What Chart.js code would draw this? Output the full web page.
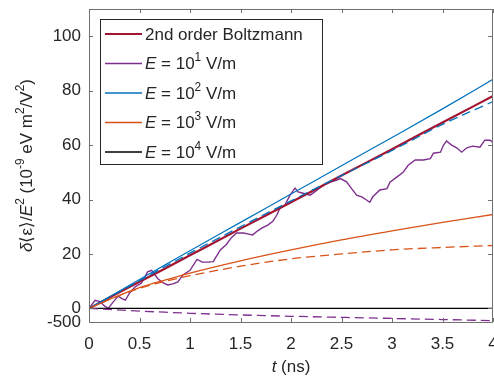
<!DOCTYPE html>
<html>
<head>
<meta charset="utf-8">
<script src="https://cdn.jsdelivr.net/npm/chart.js@4.4.1/dist/chart.umd.min.js"></script>
<style>
  html, body { margin: 0; padding: 0; background: #fff; }
  #wrap { width: 494px; height: 379px; }
</style>
</head>
<body>
<div id="wrap"><canvas id="myChart" width="494" height="379"></canvas></div>
<script>
// time axis (ns) for the smooth curves
const tSmooth = [0, 0.25, 0.5, 0.75, 1, 1.5, 2, 2.5, 3, 3.5, 4];

const boltzmann    = [0, 4.9, 9.8, 14.6, 19.5, 29.3, 39, 48.8, 58.5, 68.3, 78];
const blueSolid    = [0, 5.3, 10.6, 15.9, 21.2, 31.6, 42, 52.4, 62.8, 73.3, 84.2];
const blueDashed   = [0, 5.1, 10.2, 15.3, 20.3, 30, 39.5, 48.8, 58, 67.6, 76];
const orangeSolid  = [0, 4, 7.6, 10.4, 13, 17.5, 21.5, 25.2, 28.5, 31.6, 34.5];
const orangeDashed = [0, 4, 7.4, 9.9, 12, 15.5, 18.2, 20, 21.5, 22.4, 23.1];
const purpleDashed = [0, -0.5, -1, -1.4, -1.8, -2.4, -2.9, -3.3, -3.7, -4.1, -4.5];
const blackSolid   = [0, 0, 0, 0, 0, 0, 0, 0, 0, 0, 0];

// noisy E = 10^1 V/m run
const tPurple = [0, 0.03, 0.06, 0.11, 0.15, 0.19, 0.24, 0.29, 0.33, 0.36, 0.40, 0.46, 0.52, 0.58, 0.62,
  0.68, 0.73, 0.78, 0.83, 0.88, 0.93, 1.0, 1.07, 1.12, 1.18, 1.23, 1.3, 1.36, 1.41, 1.46, 1.53, 1.58,
  1.62, 1.67, 1.71, 1.77, 1.82, 1.86, 1.89, 1.94, 1.99, 2.04, 2.07, 2.12, 2.19, 2.26, 2.32, 2.39, 2.44,
  2.49, 2.55, 2.6, 2.65, 2.7, 2.74, 2.78, 2.81, 2.88, 2.95, 2.98, 3.05, 3.11, 3.16, 3.23, 3.31, 3.38,
  3.41, 3.48, 3.51, 3.54, 3.59, 3.64, 3.69, 3.74, 3.80, 3.87, 3.92, 3.97, 4.0];
const purpleSolid = [0, 1.5, 3, 2.5, 1, 0, 2.4, 4.5, 3.5, 3, 5.6, 8, 9.3, 13.4, 14,
  11, 9.5, 8.6, 9, 9.7, 12.3, 14, 18, 17, 17, 17.2, 21.5, 23.5, 26, 27.7, 27.7, 27.3,
  27, 28.5, 29.5, 30.6, 32, 34.3, 36.8, 38, 41.6, 44.2, 42.8, 42.3, 41.6, 43.5, 45.3, 46.4, 47,
  47.7, 46.5, 44, 41.6, 41, 40, 39, 41, 43.5, 44, 46.4, 48.3, 50, 52.6, 54.5, 54.5, 55,
  57, 57.4, 60, 61.5, 60, 59, 57.4, 59, 59.6, 59.2, 61.8, 61.8, 61];

const xTicks = [0, 0.5, 1, 1.5, 2, 2.5, 3, 3.5, 4];
const xTickLabels = ['0', '0.5', '1', '1.5', '2', '2.5', '3', '3.5', '4'];
const yTicks = [-5, 0, 20, 40, 60, 80, 100];
const yTickLabels = ['-500', '0', '20', '40', '60', '80', '100'];

const RED = '#A2142F', PURPLE = '#7E2F8E', BLUE = '#0072BD', ORANGE = '#D95319', BLACK = '#000000';
const TEXT = '#262626';
const FONT = '"Liberation Sans", Arial, sans-serif';

function pts(xs, ys) { return xs.map((x, i) => ({ x: x, y: ys[i] })); }

function series(label, xs, ys, color, width, dashed, smooth) {
  return {
    label: label,
    data: pts(xs, ys),
    borderColor: color,
    backgroundColor: color,
    borderWidth: width,
    borderDash: dashed ? [9, 5] : [],
    pointRadius: 0,
    fill: false,
    tension: 0,
    cubicInterpolationMode: smooth ? 'monotone' : 'default'
  };
}

// draw a run of text pieces: {t, it, sup}
function richWidth(ctx, runs, size) {
  let w = 0;
  runs.forEach(r => {
    const s = r.sup ? size * 0.7 : size;
    ctx.font = (r.it ? 'italic ' : '') + s + 'px ' + FONT;
    w += ctx.measureText(r.t).width;
  });
  return w;
}
function richDraw(ctx, runs, x, y, size) {
  ctx.textBaseline = 'middle';
  ctx.textAlign = 'left';
  runs.forEach(r => {
    const s = r.sup ? size * 0.7 : size;
    ctx.font = (r.it ? 'italic ' : '') + s + 'px ' + FONT;
    ctx.fillText(r.t, x, r.sup ? y - size * 0.38 : y);
    x += ctx.measureText(r.t).width;
  });
}

const legendItems = [
  { color: RED, width: 2.2, runs: [{ t: '2nd order Boltzmann' }] },
  { color: PURPLE, width: 1.3, runs: [{ t: 'E', it: true }, { t: ' = 10' }, { t: '1', sup: true }, { t: ' V/m' }] },
  { color: BLUE, width: 1.3, runs: [{ t: 'E', it: true }, { t: ' = 10' }, { t: '2', sup: true }, { t: ' V/m' }] },
  { color: ORANGE, width: 1.3, runs: [{ t: 'E', it: true }, { t: ' = 10' }, { t: '3', sup: true }, { t: ' V/m' }] },
  { color: BLACK, width: 1.3, runs: [{ t: 'E', it: true }, { t: ' = 10' }, { t: '4', sup: true }, { t: ' V/m' }] }
];

const yTitle = [{ t: 'δ', it: true }, { t: '⟨ε⟩/' }, { t: 'E', it: true }, { t: '2', sup: true },
  { t: ' (10' }, { t: '-9', sup: true }, { t: ' eV m' }, { t: '2', sup: true }, { t: '/V' }, { t: '2', sup: true }, { t: ')' }];
const xTitle = [{ t: 't', it: true }, { t: ' (ns)' }];

const framePlugin = {
  id: 'frame',
  afterDatasetsDraw(chart) {
    const ctx = chart.ctx, a = chart.chartArea;
    const xs = chart.scales.x, ys = chart.scales.y;
    ctx.save();
    ctx.strokeStyle = '#707070';
    ctx.lineWidth = 1;
    ctx.beginPath();
    ctx.rect(Math.round(a.left) + 0.5, Math.round(a.top) + 0.5,
      Math.round(a.right - a.left) - 1, Math.round(a.bottom - a.top));
    ctx.stroke();
    ctx.beginPath();
    xTicks.forEach(v => {
      const px = Math.round(xs.getPixelForValue(v)) + 0.5;
      ctx.moveTo(px, a.bottom); ctx.lineTo(px, a.bottom - 4);
      ctx.moveTo(px, a.top); ctx.lineTo(px, a.top + 4);
    });
    yTicks.forEach(v => {
      const py = Math.round(ys.getPixelForValue(v)) + 0.5;
      ctx.moveTo(a.left, py); ctx.lineTo(a.left + 4, py);
      ctx.moveTo(a.right - 1, py); ctx.lineTo(a.right - 5, py);
    });
    ctx.stroke();

    // legend box
    const lx = 100.5, ly = 19.5, lw = 222, lh = 145;
    ctx.fillStyle = '#fff';
    ctx.fillRect(lx, ly, lw, lh);
    ctx.strokeStyle = TEXT;
    ctx.strokeRect(lx, ly, lw, lh);
    legendItems.forEach((it, i) => {
      const y = 34 + i * 29.5;
      ctx.strokeStyle = it.color;
      ctx.lineWidth = it.width;
      ctx.beginPath();
      ctx.moveTo(105, y); ctx.lineTo(142, y);
      ctx.stroke();
      ctx.fillStyle = TEXT;
      richDraw(ctx, it.runs, 145, y + 1, 17);
    });

    // axis titles
    ctx.fillStyle = TEXT;
    const xw = richWidth(ctx, xTitle, 17);
    richDraw(ctx, xTitle, (a.left + a.right) / 2 - xw / 2, 367, 17);
    ctx.translate(27, (a.top + a.bottom) / 2);
    ctx.rotate(-Math.PI / 2);
    const yw = richWidth(ctx, yTitle, 17);
    richDraw(ctx, yTitle, -yw / 2, 0, 17);
    ctx.restore();
  }
};

const data = {
  datasets: [
    series('E1 dashed', tSmooth, purpleDashed, PURPLE, 1.3, true, true),
    series('E4', tSmooth, blackSolid, BLACK, 1.3, false, true),
    series('E3 dashed', tSmooth, orangeDashed, ORANGE, 1.3, true, true),
    series('E3', tSmooth, orangeSolid, ORANGE, 1.3, false, true),
    series('E2 dashed', tSmooth, blueDashed, BLUE, 1.3, true, true),
    series('E2', tSmooth, blueSolid, BLUE, 1.2, false, true),
    series('2nd order Boltzmann', tSmooth, boltzmann, RED, 2.2, false, true),
    series('E1', tPurple, purpleSolid, PURPLE, 1.4, false, false)
  ]
};

const options = {
  responsive: false,
  animation: false,
  layout: { padding: { left: 0, right: 1, top: 9, bottom: 0 } },
  scales: {
    x: {
      type: 'linear',
      min: 0,
      max: 4,
      afterFit: s => { s.height = 57; s.paddingLeft = 0; s.paddingRight = 0; },
      afterBuildTicks: s => { s.ticks = xTicks.map(v => ({ value: v })); },
      grid: { display: false, drawTicks: false },
      border: { display: false },
      ticks: {
        padding: 12,
        color: TEXT,
        font: { family: FONT, size: 17 },
        maxRotation: 0,
        autoSkip: false,
        callback: v => xTickLabels[xTicks.indexOf(v)]
      }
    },
    y: {
      type: 'linear',
      min: -5,
      max: 110,
      afterFit: s => { s.width = 89; s.paddingTop = 0; s.paddingBottom = 0; },
      afterBuildTicks: s => { s.ticks = yTicks.map(v => ({ value: v })); },
      grid: { display: false, drawTicks: false },
      border: { display: false },
      ticks: {
        padding: 8,
        color: TEXT,
        font: { family: FONT, size: 17 },
        autoSkip: false,
        callback: v => yTickLabels[yTicks.indexOf(v)]
      }
    }
  },
  plugins: {
    legend: { display: false },
    tooltip: { enabled: false }
  }
};

const canvas = document.getElementById('myChart');
const ctx = canvas.getContext('2d');

const myChart = new Chart(ctx, {
  type: 'line',
  data: data,
  options: options,
  plugins: [framePlugin]
});
</script>
</body>
</html>
